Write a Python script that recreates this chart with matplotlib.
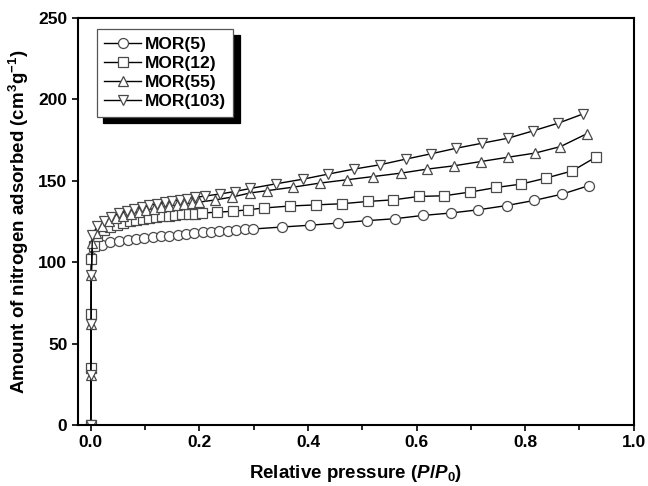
import matplotlib

matplotlib.use("Agg")
import matplotlib.pyplot as plt
from matplotlib.patches import Shadow
from matplotlib.ticker import FormatStrFormatter, MultipleLocator

# values
labels = ["MOR(5)", "MOR(12)", "MOR(55)", "MOR(103)"]

x_mor5 = [0.0, 0.001, 0.007, 0.0215, 0.036, 0.052, 0.068, 0.083, 0.098, 0.114, 0.129,
          0.144, 0.160, 0.175, 0.190, 0.206, 0.221, 0.236, 0.252, 0.268, 0.284, 0.299,
          0.352, 0.403, 0.455, 0.508, 0.560, 0.611, 0.663, 0.714, 0.766, 0.816, 0.868, 0.918]
y_mor5 = [0, 103, 109.7, 110.7, 112.2, 113.0, 113.8, 114.4, 115.0, 115.6, 115.8,
          116.3, 116.9, 117.3, 117.9, 118.3, 118.5, 118.9, 119.3, 119.9, 120.1, 120.4,
          121.6, 122.7, 124.0, 125.5, 126.7, 128.7, 130.2, 132.2, 134.8, 137.9, 141.8, 147.1]

x_mor12 = [0.0, 0.0002, 0.0005, 0.001, 0.005, 0.012, 0.024, 0.036, 0.048, 0.060, 0.072,
           0.084, 0.096, 0.108, 0.120, 0.132, 0.144, 0.156, 0.168, 0.180, 0.192, 0.204,
           0.233, 0.262, 0.290, 0.319, 0.366, 0.414, 0.462, 0.510, 0.557, 0.605, 0.651,
           0.699, 0.747, 0.793, 0.839, 0.887, 0.930]
y_mor12 = [0, 35, 68, 102, 110, 116, 119.5, 121.5, 123, 124.2, 125.1,
           125.9, 126.6, 127.2, 127.7, 128.2, 128.6, 129, 129.3, 129.6, 129.9, 130.2,
           130.7, 131.3, 132.2, 133.3, 134.5, 135.2, 135.9, 137.3, 138.3, 140.4, 140.8,
           143.1, 145.9, 148.0, 151.7, 156.1, 164.5]

x_mor55 = [0.0, 0.0002, 0.0005, 0.001, 0.003, 0.010, 0.020, 0.033, 0.046, 0.060, 0.074,
           0.088, 0.102, 0.116, 0.130, 0.144, 0.158, 0.172, 0.186, 0.200, 0.228, 0.260,
           0.293, 0.324, 0.373, 0.422, 0.471, 0.520, 0.571, 0.620, 0.669, 0.718, 0.769,
           0.818, 0.865, 0.913]
y_mor55 = [0, 31, 62, 92, 112, 118, 122, 125, 127, 128.6, 129.9,
           131, 132, 132.9, 133.7, 134.4, 135.1, 135.7, 136.3, 136.9, 138.2, 140,
           142.5, 143.9, 146.1, 148.6, 150.6, 152.6, 154.7, 157.2, 159.2, 161.8, 164.5,
           167.0, 171.0, 178.8]

x_mor103 = [0.0, 0.0002, 0.0005, 0.001, 0.003, 0.012, 0.024, 0.038, 0.052, 0.066, 0.080,
            0.094, 0.108, 0.122, 0.136, 0.150, 0.164, 0.178, 0.192, 0.210, 0.238, 0.265,
            0.294, 0.342, 0.391, 0.437, 0.485, 0.532, 0.580, 0.627, 0.673, 0.721, 0.769,
            0.815, 0.861, 0.907]
y_mor103 = [0, 31, 62, 92, 117, 122, 125.5, 128, 130, 131.5, 132.8,
            134, 135, 136, 136.8, 137.6, 138.4, 139.1, 139.8, 140.6, 141.9, 143.4,
            145.3, 148.2, 151.0, 154.1, 157.2, 159.8, 163.3, 166.6, 170.0, 173.1, 176.2,
            180.7, 185.4, 191.1]

plt.rcParams.update({
    "font.family": ["Liberation Sans", "DejaVu Sans"],
    "font.weight": "bold",
    "mathtext.fontset": "custom",
    "mathtext.rm": "Liberation Sans:bold",
    "mathtext.it": "Liberation Sans:bold:italic",
    "mathtext.bf": "Liberation Sans:bold",
})

fig = plt.figure(figsize=(6.48, 4.86), dpi=100)
fig.patch.set_facecolor("white")
ax = fig.add_axes([0.120, 0.1255, 0.858, 0.8375])

series = [
    (x_mor5, y_mor5, "o"),
    (x_mor12, y_mor12, "s"),
    (x_mor55, y_mor55, "^"),
    (x_mor103, y_mor103, "v"),
]
for (xs, ys, marker), label in zip(series, labels):
    ax.plot(xs, ys, color="black", lw=1.0, marker=marker, ms=7.2,
            mfc="white", mec="#4a4a4a", mew=0.9, label=label)

ax.set_xlim(-0.024, 1.0)
ax.set_ylim(0, 250)
ax.xaxis.set_major_locator(MultipleLocator(0.2))
ax.xaxis.set_minor_locator(MultipleLocator(0.1))
ax.yaxis.set_major_locator(MultipleLocator(50))
ax.xaxis.set_major_formatter(FormatStrFormatter("%.1f"))
ax.tick_params(axis="both", which="major", direction="out", length=4.5, width=1.2,
               labelsize=12.5, pad=3)
ax.tick_params(axis="x", which="minor", direction="out", length=3.5, width=1.2)
for spine in ax.spines.values():
    spine.set_linewidth(1.5)

ax.set_xlabel("Relative pressure ($P/P_0$)", fontsize=13.5, fontweight="bold", labelpad=9)
ax.set_ylabel("Amount of nitrogen adsorbed (cm$^3$g$^{-1}$)", fontsize=13.5,
              fontweight="bold", labelpad=5)

leg = ax.legend(loc="upper left", bbox_to_anchor=(0.034, 0.973), borderaxespad=0,
                fancybox=False, framealpha=1, edgecolor="#555555",
                prop={"size": 12.5, "weight": "bold"}, handlelength=2.1,
                handletextpad=0.2, labelspacing=0.22, borderpad=0.45)
leg.get_frame().set_linewidth(0.9)
ax.add_artist(Shadow(leg.legendPatch, 4.7, -4.7, shade=1.0, alpha=1.0, zorder=4.9))

fig.canvas.draw()
fig.savefig("out.png", dpi=100)
